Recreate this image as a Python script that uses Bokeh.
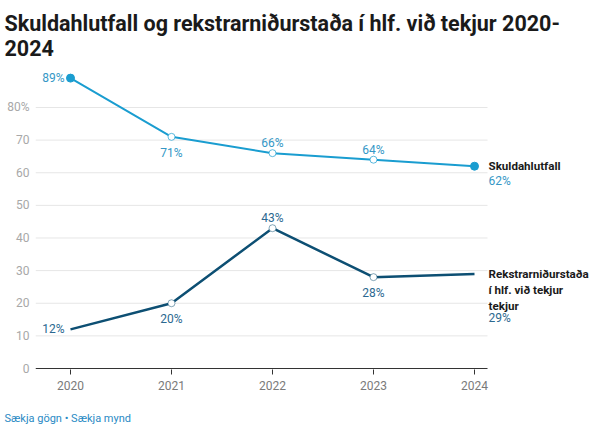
from bokeh.plotting import figure
from bokeh.models import (ColumnDataSource, LabelSet, Label, Title, FixedTicker,
                          Range1d)
from bokeh.core.properties import value
from bokeh.embed import file_html
from bokeh.resources import INLINE

# ---- data ----
years = [2020, 2021, 2022, 2023, 2024]
skuld = [89, 71, 66, 64, 62]
rekstur = [12, 20, 43, 28, 29]
skuld_name = "Skuldahlutfall"
rekstur_name = "Rekstrarniðurstaða\ní hlf. við tekjur\ntekjur"
y_ticks = [0, 10, 20, 30, 40, 50, 60, 70, 80]
y_tick_labels = ["0", "10", "20", "30", "40", "50", "60", "70", "80%"]
title_text = "Skuldahlutfall og rekstrarniðurstaða í hlf. við tekjur 2020-\n2024"
footer_text = "Sækja gögn • Sækja mynd"

# label placement (styling, not data)
skuld_pos = ["left", "below", "above", "above", None]
rekstur_pos = ["left", "below", "above", "below", None]

C_SKULD = "#1a9dd0"
C_SKULD_TXT = "#3597c6"
C_REK = "#0d4f73"
C_REK_TXT = "#2b6890"
FONT = "Roboto"

LEFT = 35
PX_PER_YEAR = 101.0
X0 = years[0] - 35 / PX_PER_YEAR          # left edge of plot area
X_GRID_END = years[-1] + 13 / PX_PER_YEAR  # where gridlines stop
FRAME_W = 556
X1 = X0 + FRAME_W / PX_PER_YEAR

p = figure(frame_width=FRAME_W, frame_height=301,
           min_border_left=LEFT, min_border_right=0,
           output_backend="svg", toolbar_location=None,
           x_range=Range1d(X0, X1),
           y_range=Range1d(-0.3065, 91.95))
p.outline_line_color = None
p.background_fill_color = "white"
p.border_fill_color = "white"

# title
t = Title(text=title_text, text_font=FONT, text_font_size="21.5px",
          text_font_style="bold", text_color="#1a1a1a", align="left",
          offset=-31, standoff=16)
p.add_layout(t, "above")

# footer
f = Title(text=footer_text, text_font=FONT, text_font_size="11px",
          text_font_style="normal", text_color="#2a8ac4", align="left",
          offset=-31, standoff=34)
p.add_layout(f, "below")

# grid (limited to the data area, labels sit to the right)
p.xgrid.visible = False
p.ygrid.visible = False
grid_y = y_ticks[1:]
p.segment(x0=[X0] * len(grid_y), x1=[X_GRID_END] * len(grid_y),
          y0=grid_y, y1=grid_y, line_color="#e6e6e6", line_width=1)
p.segment(x0=[X0], x1=[X_GRID_END], y0=[0], y1=[0],
          line_color="#333333", line_width=1)

xa = p.xaxis[0]
xa.ticker = FixedTicker(ticks=years)
xa.axis_line_color = None
xa.major_tick_line_color = "#333333"
xa.major_tick_out = 5
xa.major_tick_in = 0
xa.minor_tick_line_color = None
xa.major_label_text_font = FONT
xa.major_label_text_font_size = "12px"
xa.major_label_text_color = "#7a7a7a"
xa.major_label_standoff = 6

ya = p.yaxis[0]
ya.ticker = FixedTicker(ticks=y_ticks)
ya.major_label_overrides = {tk: lb for tk, lb in zip(y_ticks, y_tick_labels)}
ya.axis_line_color = None
ya.major_tick_line_color = None
ya.minor_tick_line_color = None
ya.major_label_text_font = FONT
ya.major_label_text_font_size = "12px"
ya.major_label_text_color = "#a8a8a8"
ya.major_label_standoff = 0

# lines
p.line(years, skuld, line_color=C_SKULD, line_width=2)
p.line(years, rekstur, line_color=C_REK, line_width=2.5)

# markers
p.scatter([years[0], years[-1]], [skuld[0], skuld[-1]], size=8,
          fill_color=C_SKULD, line_color=C_SKULD)
p.scatter(years[1:4], skuld[1:4], size=7, fill_color="white",
          line_color=C_SKULD, line_alpha=0.7)
p.scatter(years[1:4], rekstur[1:4], size=7, fill_color="white",
          line_color=C_REK, line_alpha=0.5)


def add_labels(vals, pos, color):
    groups = {"left": ([], []), "below": ([], []), "above": ([], [])}
    for yr, v, ps in zip(years, vals, pos):
        if ps is None:
            continue
        groups[ps][0].append(yr)
        groups[ps][1].append(v)
    cfg = {"left": dict(text_align="right", x_offset=-6, y_offset=0),
           "below": dict(text_align="center", x_offset=0, y_offset=-16),
           "above": dict(text_align="center", x_offset=0, y_offset=10)}
    for ps, (xs, ys) in groups.items():
        if not xs:
            continue
        src = ColumnDataSource(dict(x=xs, y=ys, t=[f"{v}%" for v in ys]))
        ls = LabelSet(x="x", y="y", text="t", source=src,
                      text_font=value(FONT), text_font_size="12px",
                      text_color=color, text_baseline="middle", **cfg[ps])
        p.add_layout(ls)


add_labels(skuld, skuld_pos, C_SKULD_TXT)
add_labels(rekstur, rekstur_pos, C_REK_TXT)

# end labels (series names + last value)
NAME_SIZE = "11.6px"
p.add_layout(Label(x=years[-1], y=skuld[-1], text=skuld_name, x_offset=14,
                   y_offset=0, text_font=FONT, text_font_size=NAME_SIZE,
                   text_font_style="bold", text_color="#1a1a1a",
                   text_baseline="middle"))
p.add_layout(Label(x=years[-1], y=skuld[-1], text=f"{skuld[-1]}%", x_offset=14,
                   y_offset=-15, text_font=FONT, text_font_size="12px",
                   text_color=C_SKULD_TXT, text_baseline="middle"))
p.add_layout(Label(x=years[-1], y=rekstur[-1], text=rekstur_name, x_offset=14,
                   y_offset=7, text_font=FONT, text_font_size=NAME_SIZE,
                   text_font_style="bold", text_color="#1a1a1a",
                   text_baseline="top", text_line_height=1.15))
p.add_layout(Label(x=years[-1], y=rekstur[-1], text=f"{rekstur[-1]}%", x_offset=14,
                   y_offset=-44, text_font=FONT, text_font_size="12px",
                   text_color=C_REK_TXT, text_baseline="middle"))

open("out.html", "w").write(file_html(p, INLINE))
